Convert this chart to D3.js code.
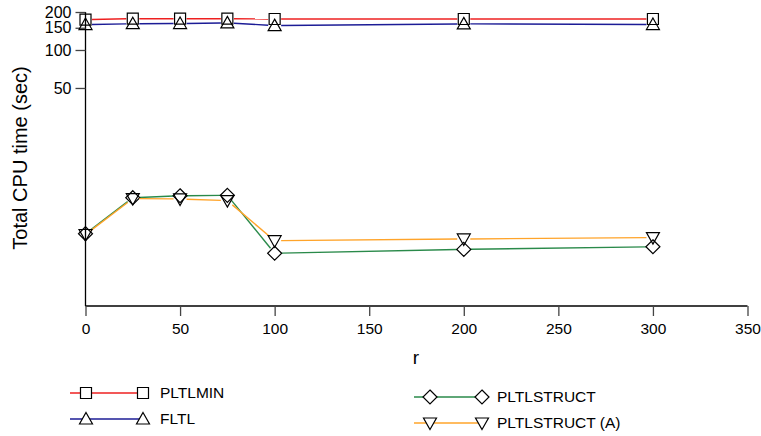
<!DOCTYPE html>
<html><head><meta charset="utf-8">
<script src="https://cdn.jsdelivr.net/npm/d3@7"></script>
<style>body{margin:0;background:#fff}svg{display:block}text{font-family:"Liberation Sans",Arial,sans-serif;fill:#000}</style>
</head><body>
<script>
const rValues = [0, 25, 50, 75, 100, 200, 300];
const pltlmin = [174, 177, 177, 177, 176, 176, 176];
const fltl = [159, 161.5, 162, 164, 156, 161, 159];
const pltlstruct = [3.5, 6.75, 7.0, 7.05, 2.45, 2.63, 2.76];
const pltlstructA = [3.45, 6.65, 6.6, 6.4, 3.08, 3.18, 3.26];
const seriesNames = ["PLTLMIN", "FLTL", "PLTLSTRUCT", "PLTLSTRUCT (A)"];
const seriesColors = ["#ee2020", "#1c1c96", "#2a8a4a", "#ffa42a"];
const seriesShapes = ["square", "triUp", "diamond", "triDown"];
const xTicks = [0, 50, 100, 150, 200, 250, 300, 350];
const yTicks = [50, 100, 150, 200];
const xLabel = "r";
const yLabel = "Total CPU time (sec)";

const W = 761, H = 436;
const svg = d3.select("body").append("svg").attr("width", W).attr("height", H);
const x = d3.scaleLinear().domain([0, 350]).range([85.5, 747.5]);
const y = d3.scaleLog().domain([0.936, 200]).range([306, 12]);

function shapePath(s, cx, cy) {
  const r = 5.5;
  if (s === "square") return `M${cx-r},${cy-r}h${2*r}v${2*r}h${-2*r}Z`;
  if (s === "triUp") return `M${cx},${cy-6.5}L${cx+6.5},${cy+5}L${cx-6.5},${cy+5}Z`;
  if (s === "triDown") return `M${cx},${cy+6.5}L${cx+6.5},${cy-5}L${cx-6.5},${cy-5}Z`;
  if (s === "diamond") return `M${cx},${cy-7}L${cx+7},${cy}L${cx},${cy+7}L${cx-7},${cy}Z`;
}

svg.append("line").attr("x1", 85.5).attr("x2", 85.5).attr("y1", 12).attr("y2", 306).attr("stroke", "#000").attr("stroke-width", 1.3);
svg.append("line").attr("x1", 85.5).attr("x2", 747.5).attr("y1", 306).attr("y2", 306).attr("stroke", "#000").attr("stroke-width", 1.3);

const xAxis = d3.axisBottom(x).tickValues(xTicks).tickSize(10).tickPadding(7).tickFormat(d3.format("d"));
const gx = svg.append("g").attr("transform", "translate(0,306)").call(xAxis);
gx.select(".domain").remove();
gx.selectAll(".tick line").attr("stroke", "#444").attr("stroke-width", 1.3);
gx.selectAll("text").style("font-size", "15.5px").attr("font-family", "Liberation Sans, Arial, sans-serif");

const yAxis = d3.axisLeft(y).tickValues(yTicks).tickSize(10).tickPadding(4).tickFormat(d3.format("d"));
const gy = svg.append("g").attr("transform", "translate(85.5,0)").call(yAxis);
gy.select(".domain").remove();
gy.selectAll(".tick line").attr("stroke", "#444").attr("stroke-width", 1.3);
gy.selectAll("text").style("font-size", "16px").attr("font-family", "Liberation Sans, Arial, sans-serif");

svg.append("text").attr("x", 416).attr("y", 364).attr("text-anchor", "middle").style("font-size", "19px").text(xLabel);
svg.append("text").attr("transform", "translate(27,158) rotate(-90)").attr("text-anchor", "middle").style("font-size", "20px").text(yLabel);

const allSeries = [pltlmin, fltl, pltlstruct, pltlstructA];
const gap = 6.5;
allSeries.forEach((vals, i) => {
  const pts = rValues.map((r, j) => [x(r), y(vals[j])]);
  const g = svg.append("g");
  for (let j = 0; j < pts.length - 1; j++) {
    const [x1, y1] = pts[j], [x2, y2] = pts[j + 1];
    const dx = x2 - x1, dy = y2 - y1, L = Math.hypot(dx, dy);
    if (L <= 2 * gap) continue;
    const ux = dx / L, uy = dy / L;
    g.append("line").attr("x1", x1 + ux * gap).attr("y1", y1 + uy * gap)
      .attr("x2", x2 - ux * gap).attr("y2", y2 - uy * gap)
      .attr("stroke", seriesColors[i]).attr("stroke-width", 1.4);
  }
  pts.forEach(([px, py]) => {
    g.append("path").attr("d", shapePath(seriesShapes[i], px, py))
      .attr("fill", "none").attr("stroke", "#000").attr("stroke-width", 1.2);
  });
});

const legendItems = [
  {i: 0, lx: 70, m1: 86, m2: 143, ty: 393, tx: 160},
  {i: 1, lx: 70, m1: 86, m2: 143, ty: 419, tx: 160},
  {i: 2, lx: 414, m1: 430, m2: 482, ty: 397, tx: 497},
  {i: 3, lx: 414, m1: 430, m2: 482, ty: 423, tx: 497}
];
legendItems.forEach(it => {
  const g = svg.append("g");
  g.append("line").attr("x1", it.lx).attr("x2", it.m2).attr("y1", it.ty).attr("y2", it.ty)
    .attr("stroke", seriesColors[it.i]).attr("stroke-width", 1.4);
  [it.m1, it.m2].forEach(mx => {
    g.append("path").attr("d", shapePath(seriesShapes[it.i], mx, it.ty))
      .attr("fill", "#fff").attr("stroke", "#000").attr("stroke-width", 1.2);
  });
  g.append("text").attr("x", it.tx).attr("y", it.ty).attr("dy", "0.35em").style("font-size", "15.5px").text(seriesNames[it.i]);
});
</script>
</body></html>
